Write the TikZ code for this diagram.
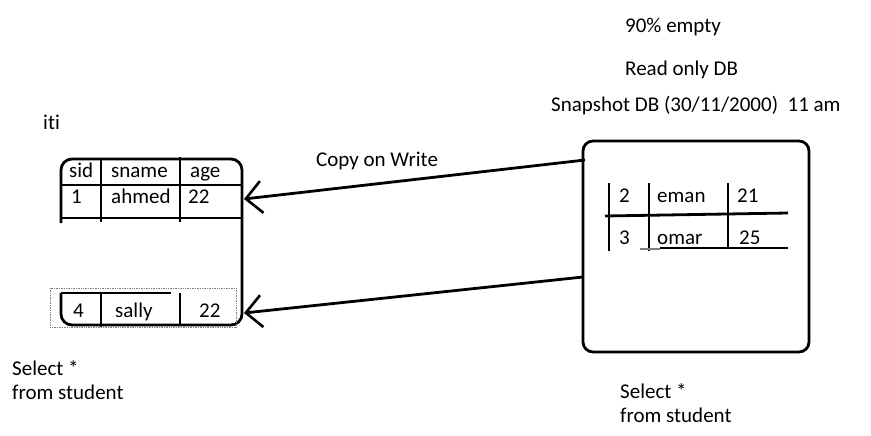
\documentclass[tikz,border=0pt]{standalone}
\usepackage{fontspec}
\setmainfont[Ligatures=NoCommon]{Carlito}
\usetikzlibrary{arrows.meta}
\begin{document}
\begin{tikzpicture}[x=1pt,y=-1pt,
  tbl/.style={line width=2.8pt},
  lbl/.style={anchor=base west, inner sep=0pt, font=\fontsize{21}{24}\selectfont},
  link/.style={line width=2.8pt, -{Straight Barb[length=16pt,width=32pt,line width=2.6pt]}},
  ]
\useasboundingbox (0,0) rectangle (871,436);
% top texts
\node[lbl] (empty) at (625,33) {90\% empty};
\node[lbl] (ro) at (625,76) {Read only DB};
\node[lbl] (snapt) at (551,111) {Snapshot DB (30/11/2000)\ \ 11 am};
\node[lbl] (iti) at (43,129) {iti};
\node[lbl] (cow) at (316,166) {Copy on Write};
% left table
\node[minimum width=181pt, minimum height=166pt, inner sep=0pt] (ltab) at (151.5,242) {};
\draw[tbl, rounded corners=11pt] (61,223) -- (61,159) -- (242,159) -- (242,325) -- (61,325) -- (61,293);
\draw[tbl] (61,185) -- (242,185);
\draw[tbl] (61,218) -- (242,218);
\draw[tbl] (101,159) -- (101,222);
\draw[tbl] (180,157) -- (180,222);
\draw[tbl] (61,293) -- (171,293);
\draw[tbl] (101,293) -- (101,327);
\draw[tbl] (180,293) -- (180,325);
\draw[gray, densely dotted, line width=0.7pt] (50,288) rectangle (236,327);
\node[lbl] (sid) at (69,177) {sid};
\node[lbl] (sname) at (111,177) {sname};
\node[lbl] (age) at (190,177) {age};
\node[lbl] (v1) at (71,203) {1};
\node[lbl] (ahmed) at (111,203) {ahmed};
\node[lbl] (a1) at (188,203) {22};
\node[lbl] (v4) at (73,317) {4};
\node[lbl] (sally) at (115,317) {sally};
\node[lbl] (a4) at (199,317) {22};
% right box
\node[draw, line width=2.8pt, rounded corners=10pt, minimum width=226pt, minimum height=211pt, inner sep=0pt] (snap) at (696,246.5) {};
\draw[tbl] (609,183) -- (609,251);
\draw[tbl] (649,183) -- (649,251);
\draw[tbl] (728,183) -- (728,249);
\draw[tbl] (605,216) -- (788,213);
\draw[tbl] (660,248) -- (788,248);
\draw[gray, line width=1.2pt] (640,249) -- (660,249);
\node[lbl] (v2) at (619,202) {2};
\node[lbl] (eman) at (657,202) {eman};
\node[lbl] (a2) at (737,202) {21};
\node[lbl] (v3) at (619,244) {3};
\node[lbl] (omar) at (657,244) {omar};
\node[lbl] (a3) at (739,244) {25};
% connectors
\coordinate (s1) at (585,160);
\coordinate (s2) at (583,277);
\coordinate (t1) at (244,199);
\coordinate (t2) at (244,313);
\draw[link] (s1) -- (t1);
\draw[link] (s2) -- (t2);
% queries
\node[lbl] (q1a) at (12,375) {Select *};
\node[lbl] (q1b) at (12,399) {from student};
\node[lbl] (q2a) at (620,398) {Select *};
\node[lbl] (q2b) at (620,422) {from student};
\end{tikzpicture}
\end{document}
